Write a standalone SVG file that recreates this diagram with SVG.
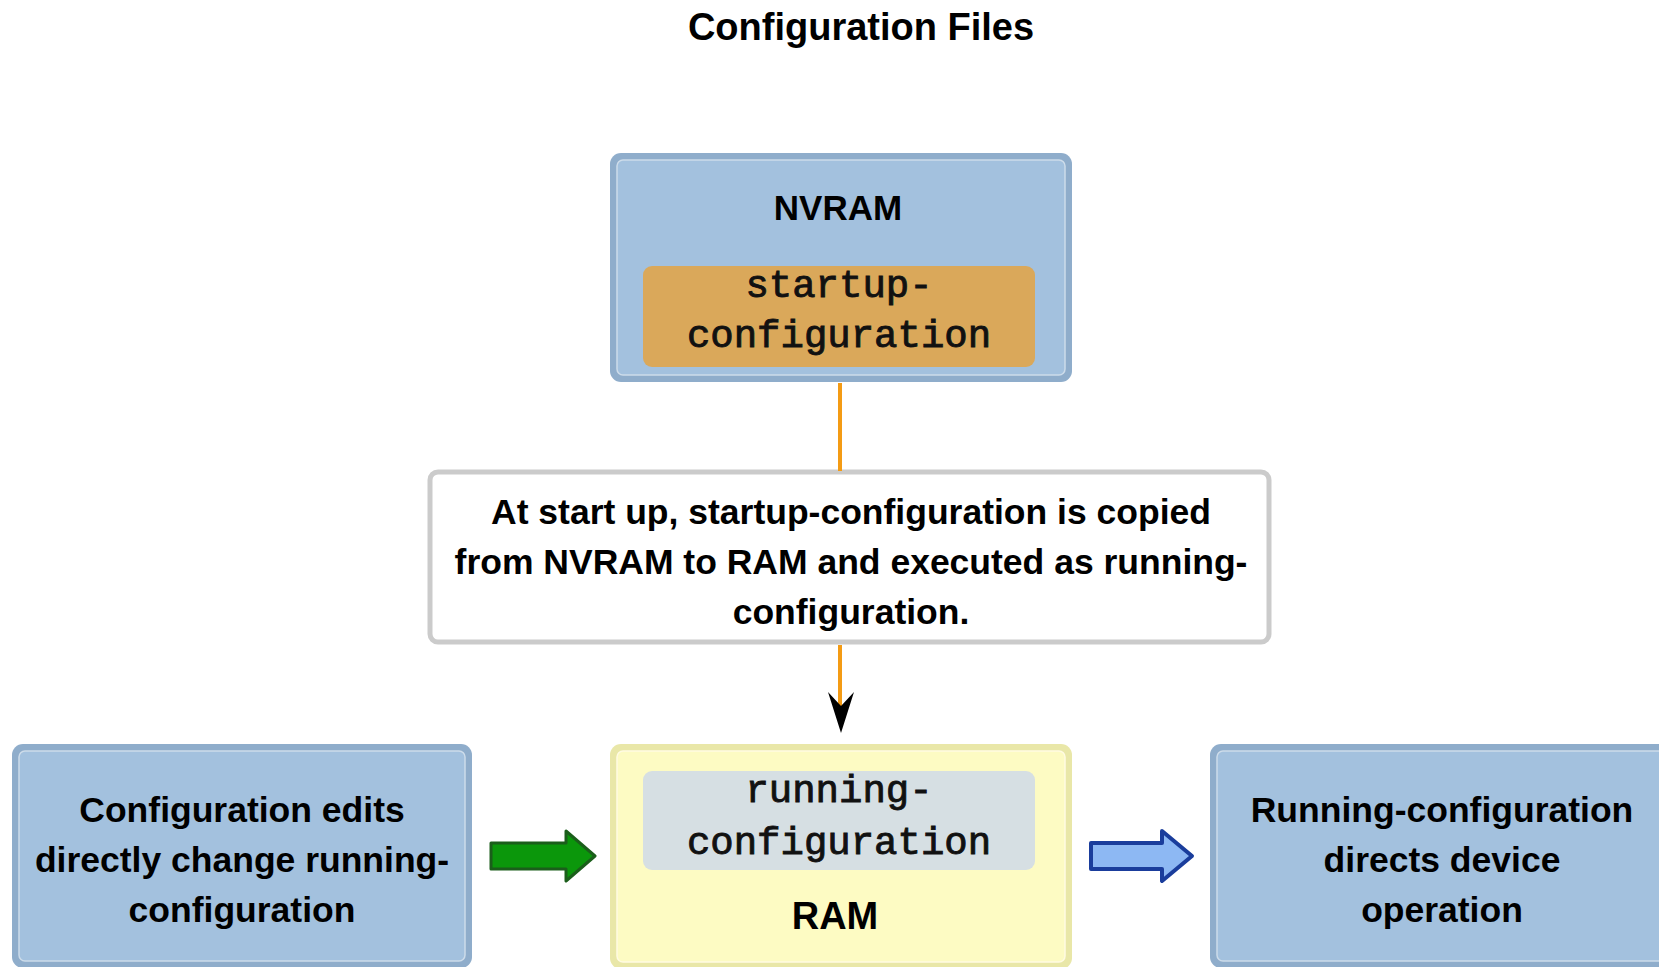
<svg xmlns="http://www.w3.org/2000/svg" width="1659" height="967" viewBox="0 0 1659 967">
<style>
.t{font-family:"Liberation Sans",Arial,sans-serif;font-weight:bold;fill:#000;text-anchor:middle}
.m{font-family:"Liberation Mono","Courier New",monospace;font-weight:normal;fill:#111;stroke:#111;stroke-width:0.9;text-anchor:middle;font-size:39px}
.bo{fill:#8fadcb}
.bi{fill:#a3c1de;stroke:#cddcea;stroke-width:1.5}
.yo{fill:#e9e7a8}
.yi{fill:#fdfbc3;stroke:#fffbe2;stroke-width:1.5}
.conn{stroke:#f49b14;stroke-width:4;fill:none}
</style>
<rect width="1659" height="967" fill="#fff"/>
<text class="t" x="861" y="40" font-size="38">Configuration Files</text>

<g id="nvram">
<rect class="bo" x="610" y="153" width="462" height="229" rx="11"/>
<rect class="bi" x="617" y="160" width="448" height="215" rx="6"/>
<text class="t" x="838" y="220" font-size="35">NVRAM</text>
<rect x="643" y="266" width="392" height="101" rx="9" fill="#daa85a"/>
<text class="m" x="839" y="297">startup-</text>
<text class="m" x="839" y="347">configuration</text>
</g>

<g id="note">
<rect x="430" y="472" width="839" height="170" rx="8" fill="#fff" stroke="#cbcbcb" stroke-width="5"/>
<text class="t" x="851" y="524" font-size="35.5">At start up, startup-configuration is copied</text>
<text class="t" x="851" y="574" font-size="35.5">from NVRAM to RAM and executed as running-</text>
<text class="t" x="851" y="624" font-size="35.5">configuration.</text>
</g>

<g id="edits">
<rect class="bo" x="12" y="744" width="460" height="224" rx="11"/>
<rect class="bi" x="19" y="751" width="446" height="210" rx="6"/>
<text class="t" x="242" y="822" font-size="35.5">Configuration edits</text>
<text class="t" x="242" y="872" font-size="35.5">directly change running-</text>
<text class="t" x="242" y="922" font-size="35.5">configuration</text>
</g>

<g id="ram">
<rect class="yo" x="610" y="744" width="462" height="225" rx="11"/>
<rect class="yi" x="617" y="751" width="448" height="211" rx="6"/>
<rect x="643" y="771" width="392" height="99" rx="9" fill="#d6dfe3"/>
<text class="m" x="839" y="802">running-</text>
<text class="m" x="839" y="854">configuration</text>
<text class="t" x="835" y="929" font-size="38">RAM</text>
</g>

<g id="operation">
<rect class="bo" x="1210" y="744" width="463" height="224" rx="11"/>
<rect class="bi" x="1217" y="751" width="449" height="210" rx="6"/>
<text class="t" x="1442" y="822" font-size="35.5">Running-configuration</text>
<text class="t" x="1442" y="872" font-size="35.5">directs device</text>
<text class="t" x="1442" y="922" font-size="35.5">operation</text>
</g>

<g id="connectors">
<line class="conn" x1="840" y1="383" x2="840" y2="471"/>
<line class="conn" x1="840" y1="645" x2="840" y2="712"/>
<path d="M841,733 L828,692 L841,706 L854,692 Z" fill="#000"/>
<path d="M491,843 H566 V831 L595,856 L566,881 V869 H491 Z" fill="#0b970b" stroke="#1b5e1b" stroke-width="3" stroke-linejoin="round"/>
<path d="M1091,843 H1162 V831 L1192,856 L1162,881 V869 H1091 Z" fill="#8db8f3" stroke="#1a3d9c" stroke-width="4" stroke-linejoin="round"/>
</g>
</svg>
